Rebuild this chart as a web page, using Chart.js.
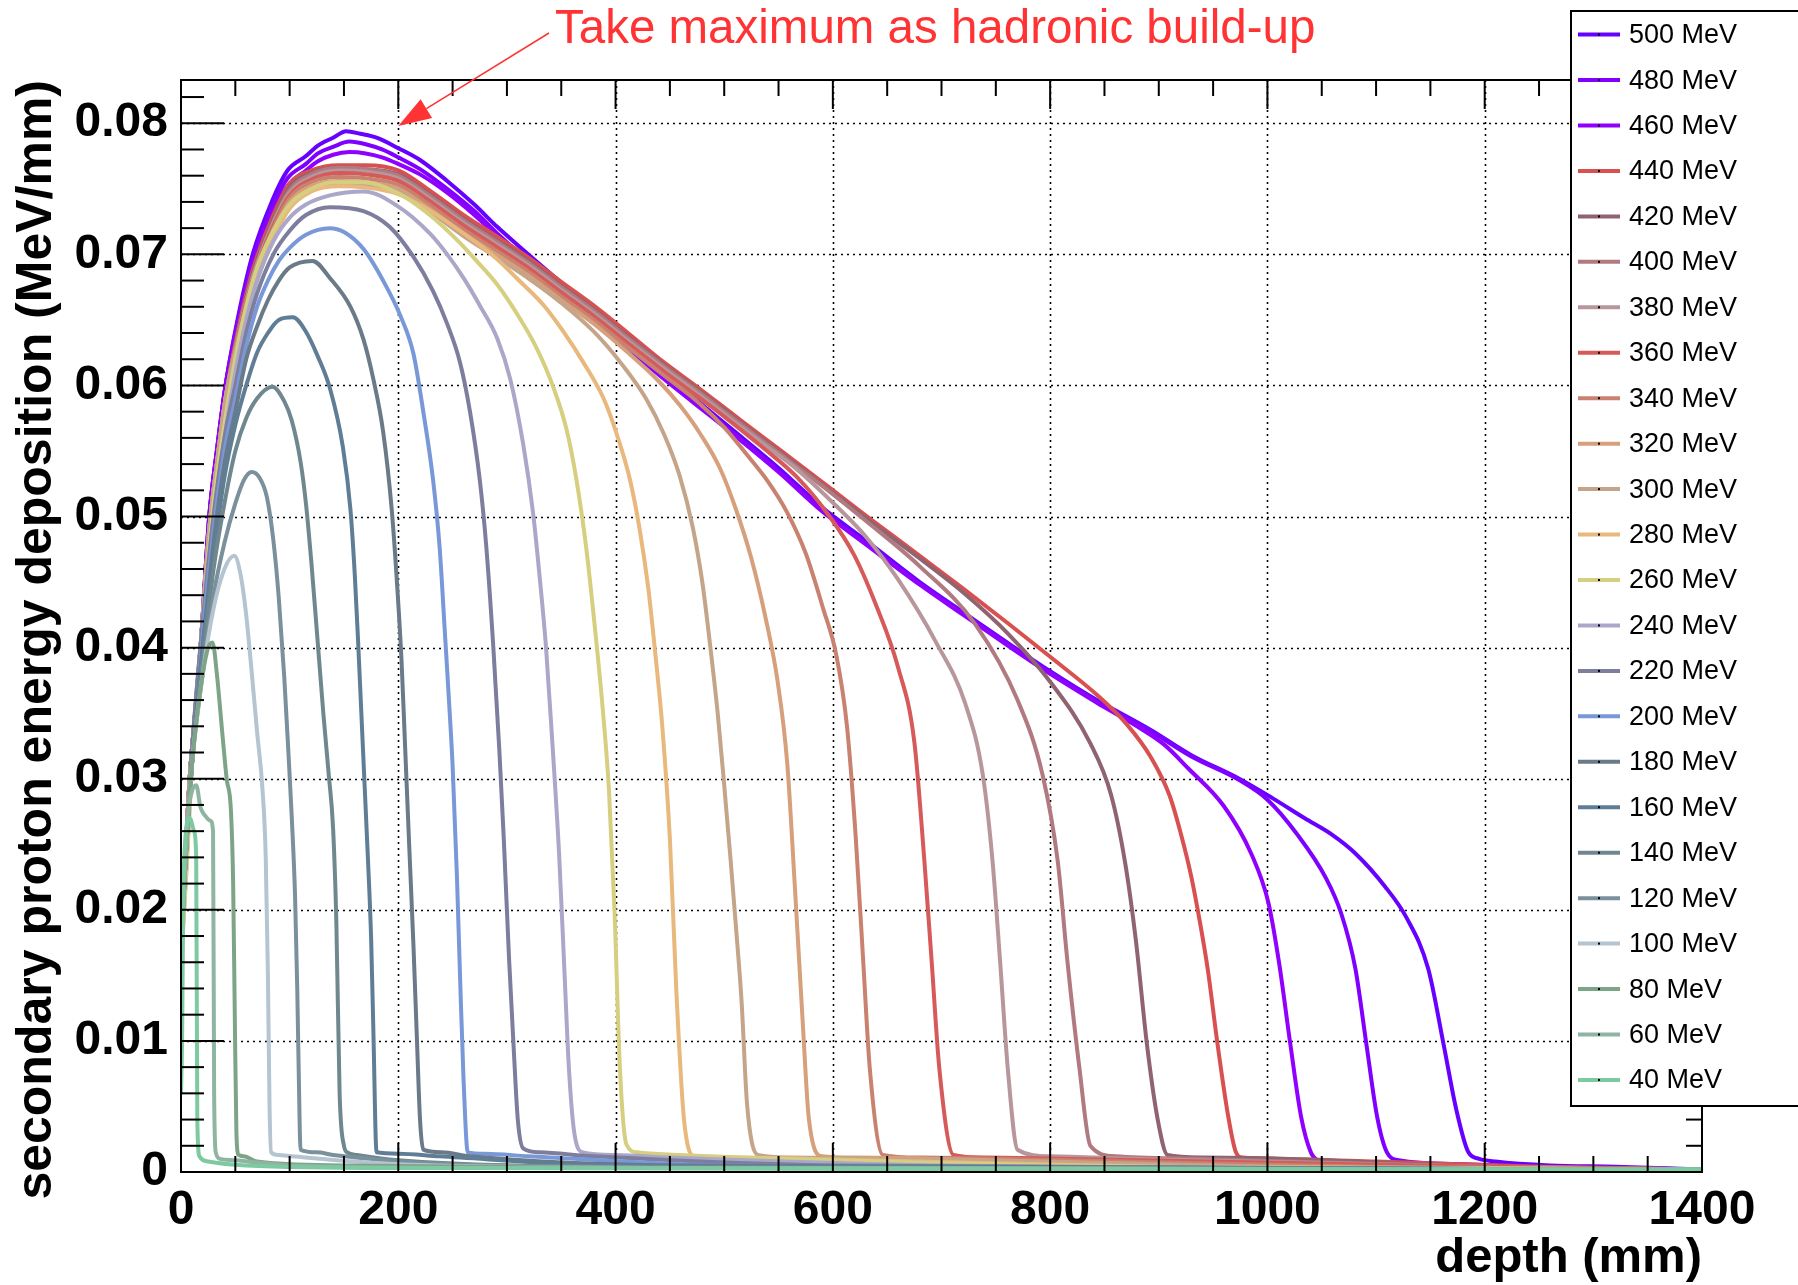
<html>
<head>
<script src="https://cdn.jsdelivr.net/npm/chart.js"></script>
<style>
  body { margin: 0; background: #fff; }
</style>
</head>
<body>
<canvas id="depthChart" width="1798" height="1285"></canvas>

<script>
// beam energies (legend order) and their line colours
const energies = [500, 480, 460, 440, 420, 400, 380, 360, 340, 320, 300, 280, 260, 240, 220, 200, 180, 160, 140, 120, 100, 80, 60, 40];
const colors = ['#6600ff', '#8000ff', '#9000ff', '#d95050', '#8f6470', '#b07a80', '#b8979c', '#d65a5a', '#c8826f', '#d6a07c',
                '#c4a58a', '#e8b87c', '#d6cf80', '#aba7c9', '#7d7d9e', '#7898d8', '#6a7a88', '#5f7e96', '#6f8890', '#7a909c',
                '#b4c4d0', '#7ea488', '#8fb4a2', '#7dcaa2'];

// [depth (mm), deposition (MeV/mm)]
const s500 = [[0,0.016],[3,0.022],[8,0.030],[13,0.035],[18,0.040],[26,0.050],[33,0.055],[41,0.060],[52,0.065],[66,0.070],[84,0.0741],[98,0.0764],[115,0.0775],[126,0.0783],[140,0.0789],[152,0.0794],[165,0.0792],[180,0.0789],[200,0.0781],[220,0.0772],[245,0.0756],[270,0.0738],[291,0.0721],[310,0.0707],[335,0.0689],[360,0.0671],[383,0.0653],[410,0.0634],[440,0.0612],[470,0.0592],[505,0.0568],[550,0.0537],[590,0.0507],[630,0.0482],[680,0.0450],[720,0.0427],[762,0.0403],[800,0.0382],[843,0.0360],[893,0.0337],[930,0.0318],[974,0.0300],[1005,0.0285],[1034,0.0270],[1060,0.0257],[1081,0.0243],[1108,0.0218],[1128,0.0194],[1148,0.0155],[1162,0.0098],[1174,0.0047],[1185,0.0015],[1195,0.0010],[1210,0.0008],[1260,0.0005],[1320,0.0004],[1400,0.0002]];
const s480 = [[0,0.016],[3,0.022],[8,0.030],[13,0.035],[18,0.040],[26,0.050],[33,0.055],[41,0.060],[52,0.0648],[66,0.0696],[84,0.0736],[98,0.0758],[115,0.0769],[126,0.0777],[140,0.0782],[155,0.0786],[170,0.0784],[185,0.0780],[200,0.0774],[220,0.0765],[245,0.0750],[270,0.0733],[291,0.0716],[310,0.0702],[335,0.0685],[360,0.0667],[383,0.0650],[410,0.0631],[440,0.0610],[470,0.0590],[505,0.0566],[550,0.0535],[590,0.0505],[630,0.0480],[680,0.0449],[720,0.0426],[762,0.0402],[800,0.0381],[843,0.0359],[893,0.0336],[930,0.0317],[974,0.0299],[1000,0.0284],[1027,0.0258],[1054,0.0224],[1068,0.0197],[1081,0.0155],[1091,0.0098],[1101,0.0042],[1110,0.0015],[1121,0.0009],[1180,0.0006],[1260,0.0004],[1400,0.0002]];
const s460 = [[0,0.016],[3,0.022],[8,0.030],[13,0.035],[18,0.040],[26,0.050],[33,0.055],[41,0.060],[52,0.0645],[66,0.0692],[84,0.0731],[98,0.0752],[115,0.0764],[126,0.0771],[140,0.0776],[155,0.0778],[170,0.0777],[185,0.0774],[200,0.0769],[220,0.0761],[245,0.0747],[270,0.0730],[291,0.0714],[310,0.0700],[335,0.0683],[360,0.0665],[383,0.0648],[410,0.0629],[440,0.0608],[470,0.0588],[505,0.0565],[550,0.0534],[590,0.0504],[630,0.0479],[680,0.0448],[720,0.0425],[762,0.0401],[800,0.0380],[843,0.0358],[880,0.0340],[905,0.0326],[927,0.0308],[960,0.0279],[985,0.0243],[1001,0.0205],[1011,0.0158],[1021,0.0098],[1031,0.0042],[1040,0.0015],[1047,0.0009],[1100,0.0006],[1250,0.0004],[1400,0.0002]];
const s440 = [[0,0.016],[3,0.022],[8,0.030],[13,0.035],[18,0.040],[26,0.049],[33,0.054],[41,0.059],[52,0.064],[66,0.0688],[84,0.0728],[100,0.0754],[120,0.0764],[145,0.0768],[170,0.0768],[200,0.0764],[230,0.0748],[260,0.0730],[290,0.0714],[321,0.0697],[350,0.0679],[383,0.0659],[410,0.0641],[444,0.0618],[475,0.0599],[505,0.0580],[535,0.0561],[567,0.0541],[597,0.0522],[630,0.0501],[680,0.0470],[720,0.0445],[762,0.0418],[800,0.0393],[843,0.0364],[870,0.0342],[893,0.0316],[910,0.0287],[920,0.0259],[930,0.0225],[938,0.0190],[945,0.0155],[954,0.0098],[964,0.0042],[971,0.0015],[977,0.0011],[1010,0.0010],[1100,0.0008],[1250,0.0004],[1400,0.0002]];
const s420 = [[0,0.016],[3,0.022],[8,0.030],[13,0.035],[18,0.040],[26,0.049],[33,0.054],[41,0.059],[52,0.0638],[66,0.0685],[84,0.0725],[100,0.0751],[120,0.0762],[145,0.0766],[170,0.0765],[200,0.0761],[230,0.0745],[260,0.0727],[290,0.0711],[321,0.0694],[350,0.0676],[383,0.0656],[410,0.0638],[444,0.0616],[475,0.0597],[505,0.0578],[535,0.0559],[567,0.0539],[597,0.0520],[630,0.0499],[680,0.0468],[720,0.0442],[762,0.0410],[800,0.0374],[837,0.0327],[856,0.0288],[869,0.0236],[879,0.0176],[889,0.0098],[899,0.0040],[908,0.0013],[940,0.0011],[1020,0.0010],[1200,0.0004],[1400,0.0002]];
const s400 = [[0,0.016],[3,0.022],[8,0.030],[13,0.035],[18,0.040],[26,0.049],[33,0.054],[41,0.059],[52,0.0637],[66,0.0683],[84,0.0723],[100,0.0749],[120,0.0761],[145,0.0766],[170,0.0765],[200,0.0760],[230,0.0744],[260,0.0726],[290,0.0710],[321,0.0693],[350,0.0675],[383,0.0655],[410,0.0637],[444,0.0615],[475,0.0596],[505,0.0577],[535,0.0558],[567,0.0538],[597,0.0519],[630,0.0497],[680,0.0462],[731,0.0418],[770,0.0360],[793,0.0303],[807,0.0237],[816,0.0160],[827,0.0079],[837,0.0020],[860,0.0012],[940,0.0010],[1200,0.0004],[1400,0.0002]];
const s380 = [[0,0.016],[3,0.022],[8,0.030],[13,0.035],[18,0.040],[26,0.049],[33,0.054],[41,0.059],[52,0.0636],[66,0.0682],[84,0.0722],[100,0.0747],[120,0.0759],[145,0.0764],[170,0.0763],[200,0.0758],[230,0.0742],[260,0.0724],[290,0.0708],[321,0.0691],[350,0.0673],[383,0.0653],[410,0.0635],[444,0.0613],[475,0.0594],[505,0.0575],[535,0.0556],[567,0.0536],[597,0.0513],[630,0.0485],[660,0.0452],[695,0.0404],[722,0.0357],[738,0.0303],[747,0.0237],[754,0.0160],[761,0.0079],[770,0.0017],[800,0.0012],[880,0.0010],[1200,0.0004],[1400,0.0002]];
const s360 = [[0,0.016],[3,0.022],[8,0.030],[13,0.035],[18,0.040],[26,0.049],[33,0.054],[41,0.059],[52,0.0635],[66,0.068],[84,0.072],[100,0.0745],[120,0.0757],[145,0.0762],[170,0.0761],[200,0.0756],[230,0.0740],[260,0.0722],[290,0.0706],[321,0.0689],[350,0.0671],[383,0.0651],[410,0.0633],[444,0.0611],[475,0.0592],[505,0.0573],[535,0.0553],[567,0.0530],[597,0.0500],[620,0.0470],[639,0.0434],[660,0.0385],[675,0.0328],[684,0.0240],[691,0.0160],[698,0.0079],[711,0.0013],[740,0.0011],[820,0.0010],[1200,0.0004],[1400,0.0002]];
const s340 = [[0,0.016],[3,0.022],[8,0.030],[13,0.035],[18,0.040],[26,0.049],[33,0.054],[41,0.059],[52,0.0634],[66,0.0678],[84,0.0718],[100,0.0743],[120,0.0755],[145,0.0759],[170,0.0758],[200,0.0753],[230,0.0737],[260,0.0719],[290,0.0703],[321,0.0686],[350,0.0668],[383,0.0648],[410,0.0630],[444,0.0608],[475,0.0588],[500,0.0568],[520,0.0548],[540,0.0527],[558,0.0503],[575,0.0472],[591,0.0430],[603,0.0395],[613,0.0340],[621,0.0256],[628,0.0160],[634,0.0079],[646,0.0013],[680,0.0011],[760,0.0010],[1100,0.0004],[1400,0.0002]];
const s320 = [[0,0.016],[3,0.022],[8,0.030],[13,0.035],[18,0.040],[26,0.049],[33,0.054],[41,0.059],[52,0.0633],[66,0.0676],[84,0.0715],[100,0.0740],[120,0.0752],[145,0.0756],[170,0.0755],[200,0.0750],[230,0.0734],[260,0.0716],[290,0.0700],[321,0.0683],[350,0.0665],[383,0.0645],[410,0.0626],[440,0.0603],[459,0.0585],[478,0.0563],[496,0.0537],[511,0.0505],[525,0.0468],[538,0.0423],[549,0.0375],[558,0.0312],[565,0.0218],[572,0.0118],[578,0.0040],[590,0.0012],[620,0.0011],[700,0.0010],[1000,0.0004],[1400,0.0002]];
const s300 = [[0,0.016],[3,0.022],[8,0.030],[13,0.035],[18,0.040],[26,0.049],[33,0.054],[41,0.059],[52,0.0632],[66,0.0674],[84,0.0713],[100,0.0737],[120,0.0749],[145,0.0754],[170,0.0753],[200,0.0748],[230,0.0732],[260,0.0714],[290,0.0698],[321,0.0681],[350,0.0663],[380,0.0641],[405,0.0617],[428,0.0590],[445,0.0562],[459,0.0531],[471,0.0492],[480,0.0449],[487,0.0402],[494,0.0350],[500,0.0295],[506,0.0237],[511,0.0185],[516,0.0130],[521,0.0052],[531,0.0013],[560,0.0011],[640,0.0010],[1000,0.0004],[1400,0.0002]];
const s280 = [[0,0.016],[5,0.023],[10,0.031],[20,0.042],[30,0.050],[40,0.056],[50,0.061],[60,0.065],[70,0.068],[85,0.0712],[100,0.0735],[120,0.0748],[145,0.0752],[170,0.0751],[200,0.0746],[230,0.0733],[260,0.0716],[290,0.0697],[310,0.0681],[334,0.0661],[352,0.0641],[370,0.0618],[389,0.0590],[401,0.0563],[413,0.0529],[422,0.0491],[430,0.0446],[436,0.0400],[443,0.0340],[450,0.0254],[456,0.0137],[463,0.0040],[473,0.0012],[500,0.0011],[580,0.0010],[900,0.0004],[1400,0.0002]];
const s260 = [[0,0.016],[5,0.023],[10,0.031],[20,0.042],[30,0.051],[40,0.057],[50,0.062],[60,0.066],[70,0.069],[85,0.0718],[100,0.0738],[120,0.0750],[140,0.0755],[168,0.0755],[199,0.0747],[229,0.0730],[254,0.0711],[272,0.0695],[291,0.0677],[309,0.0655],[327,0.0629],[343,0.0598],[355,0.0566],[364,0.0528],[373,0.0476],[381,0.0415],[388,0.0355],[394,0.0290],[399,0.0200],[404,0.0079],[410,0.0021],[420,0.0015],[460,0.0013],[520,0.0011],[800,0.0005],[1400,0.0002]];
const s240 = [[0,0.017],[5,0.025],[10,0.032],[20,0.042],[30,0.050],[40,0.056],[50,0.061],[60,0.065],[70,0.068],[85,0.071],[100,0.0728],[115,0.0738],[137,0.0745],[168,0.0748],[199,0.0737],[229,0.0716],[245,0.0700],[260,0.0682],[275,0.0661],[291,0.0636],[303,0.0605],[315,0.0555],[324,0.0503],[330,0.0455],[336,0.0400],[342,0.0325],[348,0.0243],[353,0.0152],[357,0.0080],[362,0.0030],[370,0.0015],[400,0.0013],[450,0.0011],[700,0.0005],[1400,0.0002]];
const s220 = [[0,0.017],[5,0.025],[10,0.032],[20,0.042],[30,0.050],[40,0.056],[50,0.060],[60,0.064],[70,0.067],[85,0.070],[100,0.0718],[115,0.0730],[137,0.0736],[168,0.0733],[192,0.0721],[214,0.0698],[232,0.0672],[245,0.0647],[257,0.0617],[266,0.0580],[275,0.0528],[281,0.0477],[287.5,0.0400],[293,0.0322],[297,0.0256],[302,0.0162],[306,0.0098],[310,0.0040],[315,0.0018],[330,0.0015],[380,0.0012],[600,0.0005],[1400,0.0002]];
const s200 = [[0,0.017],[5,0.025],[10,0.031],[20,0.041],[30,0.049],[40,0.055],[50,0.059],[60,0.063],[70,0.066],[80,0.068],[90,0.0695],[100,0.0705],[115,0.0715],[137,0.0720],[150,0.0717],[168,0.0704],[186,0.0680],[202,0.0653],[214,0.0624],[223,0.0580],[232,0.0528],[238,0.0477],[243,0.0410],[247,0.0355],[250,0.0310],[254,0.0225],[257,0.0145],[260,0.0072],[264,0.0015],[280,0.0014],[320,0.0012],[500,0.0005],[1400,0.0002]];
const s180 = [[0,0.017],[5,0.025],[10,0.031],[20,0.040],[30,0.048],[40,0.054],[50,0.058],[60,0.062],[70,0.0645],[80,0.0665],[90,0.068],[100,0.069],[121,0.0695],[137,0.0682],[156,0.0660],[168,0.0635],[177,0.0605],[186,0.0565],[194,0.0505],[199,0.0447],[203,0.0390],[206,0.0330],[210,0.0250],[214,0.0172],[217,0.0105],[220,0.0040],[223,0.0017],[240,0.0015],[266,0.0012],[450,0.0005],[1400,0.0002]];
const s160 = [[0,0.017],[5,0.025],[10,0.031],[20,0.040],[30,0.047],[40,0.053],[50,0.057],[60,0.060],[70,0.0625],[80,0.064],[90,0.065],[103,0.0652],[115,0.0641],[126,0.0622],[137,0.0598],[149,0.0553],[156,0.0505],[160,0.0455],[163,0.0405],[166,0.0350],[169,0.0295],[172,0.0240],[175,0.0178],[177,0.0110],[180,0.0015],[200,0.0014],[238,0.0012],[400,0.0005],[1400,0.0002]];
const s140 = [[0,0.017],[5,0.025],[10,0.031],[20,0.039],[30,0.046],[40,0.051],[50,0.055],[60,0.0575],[70,0.059],[84,0.0599],[95,0.0588],[102,0.0573],[110,0.0542],[115,0.0510],[120,0.0465],[125,0.0413],[131,0.0350],[136,0.0303],[140,0.0262],[143,0.0190],[146,0.0060],[150,0.0020],[153,0.0015],[162,0.0013],[200,0.0009],[400,0.0004],[1400,0.0002]];
const s120 = [[0,0.017],[5,0.025],[10,0.031],[20,0.038],[30,0.044],[40,0.048],[50,0.051],[58,0.0528],[65,0.0534],[72,0.0530],[79,0.0515],[85,0.0482],[90,0.0438],[95,0.0378],[99,0.0318],[102,0.0270],[105,0.0210],[107,0.0140],[108.5,0.0070],[110,0.0017],[125,0.0015],[140,0.0013],[250,0.0006],[600,0.0003],[1400,0.0002]];
const s100 = [[0,0.017],[5,0.025],[10,0.031],[20,0.038],[30,0.043],[40,0.046],[49,0.047],[55,0.0455],[60,0.0425],[65,0.0382],[70,0.0336],[75,0.0292],[78,0.0240],[80,0.0150],[81.5,0.0050],[83,0.0015],[90,0.0013],[102,0.0012],[200,0.0006],[500,0.0003],[1400,0.0002]];
const s80 = [[0,0.017],[5,0.025],[10,0.031],[15,0.035],[20,0.038],[25,0.040],[29,0.0404],[33,0.0380],[38,0.0335],[42,0.0300],[46,0.0275],[48,0.0220],[49.5,0.0120],[51,0.0030],[53,0.0013],[58,0.0012],[70,0.0008],[150,0.0005],[400,0.0003],[1400,0.0002]];
const s60 = [[0,0.016],[3,0.022],[6,0.027],[10,0.029],[14,0.0295],[18,0.0278],[22,0.0272],[27,0.0268],[29.5,0.0260],[30.5,0.0060],[32,0.0015],[36,0.0010],[50,0.0009],[100,0.0005],[300,0.0003],[1400,0.0002]];
const s40 = [[0,0.006],[1,0.010],[2,0.020],[4,0.0255],[8,0.027],[12,0.026],[14,0.024],[15,0.004],[17,0.0012],[25,0.0008],[60,0.0005],[200,0.0003],[1400,0.0002]];

const series = [s500, s480, s460, s440, s420, s400, s380, s360, s340, s320, s300, s280, s260, s240, s220, s200, s180, s160, s140, s120, s100, s80, s60, s40];

// axis ticks
const xTicks = [0, 200, 400, 600, 800, 1000, 1200, 1400];
const yTicks = [0, 0.01, 0.02, 0.03, 0.04, 0.05, 0.06, 0.07, 0.08];
const xMinorStep = 50;
const yMinorStep = 0.002;

const noteText = 'Take maximum as hadronic build-up';
const noteTip = [200, 0.0798];

const FONT = '"Liberation Sans", Arial, Helvetica, sans-serif';

// lowest energy drawn last (on top), as in the original
const datasets = [];
for (let i = energies.length - 1; i >= 0; i--) {
  datasets.push({
    label: energies[i] + ' MeV',
    data: series[i].map(p => ({x: p[0], y: p[1]})),
    borderColor: colors[i],
    backgroundColor: colors[i],
    borderWidth: 4,
    pointRadius: 0,
    fill: false,
    cubicInterpolationMode: 'monotone'
  });
}

function line(ctx, x1, y1, x2, y2) {
  ctx.beginPath();
  ctx.moveTo(x1, y1);
  ctx.lineTo(x2, y2);
  ctx.stroke();
}

// ROOT-like frame: dotted grid, box, ticks on all four sides
const frameLines = {
  id: 'frameLines',
  beforeDatasetsDraw(chart) {
    const {ctx, chartArea: a, scales: {x, y}} = chart;
    ctx.save();
    ctx.strokeStyle = '#000';
    ctx.lineWidth = 1.6;
    ctx.setLineDash([2, 4]);
    xTicks.forEach(v => {
      if (v <= 0 || v >= 1400) return;
      const px = Math.round(x.getPixelForValue(v)) + 0.5;
      line(ctx, px, a.top, px, a.bottom);
    });
    yTicks.forEach(v => {
      if (v <= 0) return;
      const py = Math.round(y.getPixelForValue(v)) + 0.5;
      line(ctx, a.left, py, a.right, py);
    });
    ctx.restore();
  },
  afterDatasetsDraw(chart) {
    const {ctx, chartArea: a, scales: {x, y}} = chart;
    ctx.save();
    ctx.strokeStyle = '#000';
    ctx.lineWidth = 2;
    ctx.strokeRect(a.left, a.top, a.right - a.left, a.bottom - a.top);
    // x ticks (bottom and top)
    for (let v = 0; v <= 1400; v += xMinorStep) {
      const px = x.getPixelForValue(v);
      const len = (v % 200 === 0) ? 29 : 16;
      line(ctx, px, a.bottom, px, a.bottom - len);
      line(ctx, px, a.top, px, a.top + len);
    }
    // y ticks (left and right)
    for (let k = 0; k * yMinorStep <= 0.0834; k++) {
      const v = k * yMinorStep;
      const py = y.getPixelForValue(v);
      const major = (k % 5 === 0);
      line(ctx, a.left, py, a.left + (major ? 43 : 23), py);
      line(ctx, a.right, py, a.right - (major ? 30 : 16), py);
    }
    ctx.restore();
  }
};

// boxed legend on the right
const boxLegend = {
  id: 'boxLegend',
  afterDraw(chart) {
    const ctx = chart.ctx;
    ctx.save();
    ctx.fillStyle = '#fff';
    ctx.fillRect(1571, 11, 240, 1095);
    ctx.strokeStyle = '#000';
    ctx.lineWidth = 2;
    ctx.strokeRect(1571, 11, 240, 1095);
    ctx.font = '27px ' + FONT;
    ctx.textBaseline = 'middle';
    ctx.textAlign = 'left';
    energies.forEach((e, i) => {
      const yy = 34.6 + i * 45.45;
      ctx.strokeStyle = colors[i];
      ctx.lineWidth = 4;
      line(ctx, 1578, yy, 1620, yy);
      ctx.fillStyle = '#000';
      ctx.fillRect(1598, yy - 1, 2, 2);
      ctx.fillText(e + ' MeV', 1629, yy + 1);
    });
    ctx.restore();
  }
};

// red note with arrow pointing at the maximum
const arrowNote = {
  id: 'arrowNote',
  afterDraw(chart) {
    const {ctx, scales: {x, y}} = chart;
    const tx = x.getPixelForValue(noteTip[0]);
    const ty = y.getPixelForValue(noteTip[1]);
    const sx = 549, sy = 33;
    const ang = Math.atan2(ty - sy, tx - sx);
    const headLen = 33, headW = 11;
    const bx = tx - headLen * Math.cos(ang);
    const by = ty - headLen * Math.sin(ang);
    ctx.save();
    ctx.strokeStyle = '#ff3333';
    ctx.fillStyle = '#ff3333';
    ctx.lineWidth = 1.5;
    line(ctx, sx, sy, bx, by);
    ctx.beginPath();
    ctx.moveTo(tx, ty);
    ctx.lineTo(bx + headW * Math.sin(ang), by - headW * Math.cos(ang));
    ctx.lineTo(bx - headW * Math.sin(ang), by + headW * Math.cos(ang));
    ctx.closePath();
    ctx.fill();
    ctx.font = '47.5px ' + FONT;
    ctx.textBaseline = 'alphabetic';
    ctx.textAlign = 'left';
    ctx.fillText(noteText, 555, 43);
    ctx.restore();
  }
};

const depthChart = new Chart(document.getElementById('depthChart'), {
  type: 'line',
  data: { datasets: datasets },
  options: {
    responsive: false,
    animation: false,
    devicePixelRatio: 1,
    layout: { padding: { top: 80, right: 96, left: 0, bottom: 0 } },
    plugins: { legend: { display: false }, tooltip: { enabled: false } },
    scales: {
      x: {
        type: 'linear',
        min: 0,
        max: 1400,
        afterBuildTicks: s => { s.ticks = xTicks.map(v => ({value: v})); },
        afterFit: s => { s.height = 113; },
        grid: { display: false, drawTicks: false, tickLength: 0 },
        border: { display: false },
        ticks: {
          autoSkip: false, maxRotation: 0, padding: 10, color: '#000',
          font: { family: FONT, size: 48, weight: 'bold' },
          callback: v => String(v)
        },
        title: {
          display: true, text: 'depth (mm)', align: 'end', color: '#000',
          font: { family: FONT, size: 49, weight: 'bold', lineHeight: 1 },
          padding: { top: 0, bottom: 2 }
        }
      },
      y: {
        type: 'linear',
        min: 0,
        max: 0.0833,
        afterBuildTicks: s => { s.ticks = yTicks.map(v => ({value: v})); },
        afterFit: s => { s.width = 181; },
        grid: { display: false, drawTicks: false, tickLength: 0 },
        border: { display: false },
        ticks: {
          autoSkip: false, padding: 13, color: '#000',
          font: { family: FONT, size: 48, weight: 'bold' },
          callback: v => (v === 0 ? '0' : v.toFixed(2))
        },
        title: {
          display: true, text: 'secondary proton energy deposition (MeV/mm)', align: 'end', color: '#000',
          font: { family: FONT, size: 50, weight: 'bold', lineHeight: 1 },
          padding: { top: 12, bottom: 0 }
        }
      }
    }
  },
  plugins: [frameLines, boxLegend, arrowNote]
});
</script>
</body>
</html>
